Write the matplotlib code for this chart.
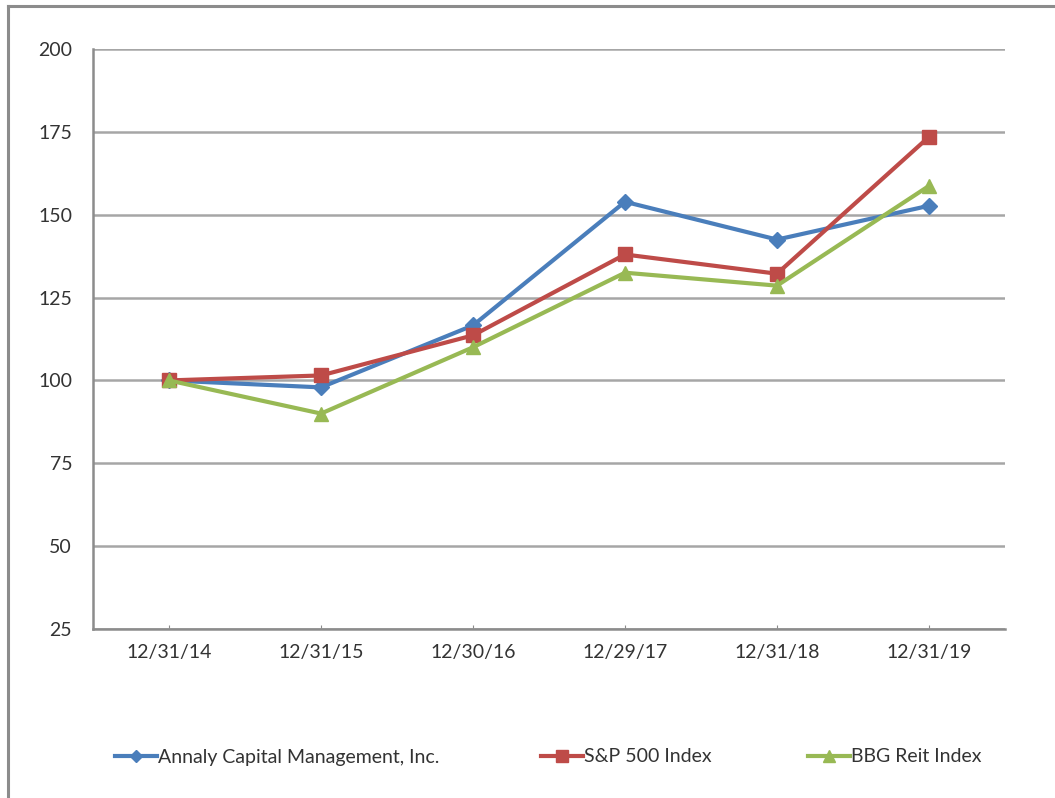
import matplotlib.pyplot as plt
from matplotlib.lines import Line2D

plt.rcParams['font.family'] = ['Lato', 'DejaVu Sans']

dates = ["12/31/14", "12/31/15", "12/30/16", "12/29/17", "12/31/18", "12/31/19"]
annaly = [100, 97.9, 116.6, 153.9, 142.5, 152.7]
sp500 = [100, 101.5, 113.6, 138.0, 132.2, 173.5]
bbg_reit = [100, 90.0, 110.0, 132.5, 128.6, 158.7]
yticks = [25, 50, 75, 100, 125, 150, 175, 200]

names = ["Annaly Capital Management, Inc.", "S&P 500 Index", "BBG Reit Index"]
colors = ["#4A7EBB", "#BE4B48", "#98B954"]
markers = ["D", "s", "^"]
msizes = [8, 10, 10]

fig = plt.figure(figsize=(10.55, 7.98), dpi=100)
ax = fig.add_axes([93 / 1055, 1 - 629 / 798, 912 / 1055, 580 / 798])

x = [i + 0.5 for i in range(len(dates))]
handles = []
for vals, name, c, m, ms in zip([annaly, sp500, bbg_reit], names, colors, markers, msizes):
    h, = ax.plot(x, vals, color=c, lw=3, marker=m, ms=ms, label=name, zorder=3)
    handles.append(h)

ax.set_xlim(0, 6)
ax.set_ylim(25, 200)
ax.set_yticks(yticks)
ax.set_xticks(x)
ax.set_xticklabels(dates)
ax.grid(axis='y', color='#A6A6A6', lw=1.8)
ax.set_axisbelow(True)
for s in ['top', 'right']:
    ax.spines[s].set_visible(False)
for s in ['left', 'bottom']:
    ax.spines[s].set_color('#8C8C8C')
    ax.spines[s].set_linewidth(1.8)
ax.tick_params(axis='y', length=0, pad=15, labelsize=14, labelcolor='#333333')
ax.tick_params(axis='x', direction='in', length=3, color='#8C8C8C', pad=11,
               labelsize=14, labelcolor='#333333')

# legend entries placed individually
legend_x = [97, 523, 790]
for h, lx in zip(handles, legend_x):
    fig.legend(handles=[h], loc='center left', bbox_to_anchor=(lx / 1055, 1 - 757 / 798),
               frameon=False, fontsize=14, handlelength=2.2, handletextpad=0.05,
               markerscale=0.8, labelcolor='#333333')

# outer chart border
fig.add_artist(Line2D([8 / 1055, 8 / 1055], [0, 1 - 6 / 798], color='#8C8C8C', lw=2.2))
fig.add_artist(Line2D([8 / 1055, 1], [1 - 6 / 798, 1 - 6 / 798], color='#8C8C8C', lw=2.2))

fig.savefig('out.png', dpi=100)
